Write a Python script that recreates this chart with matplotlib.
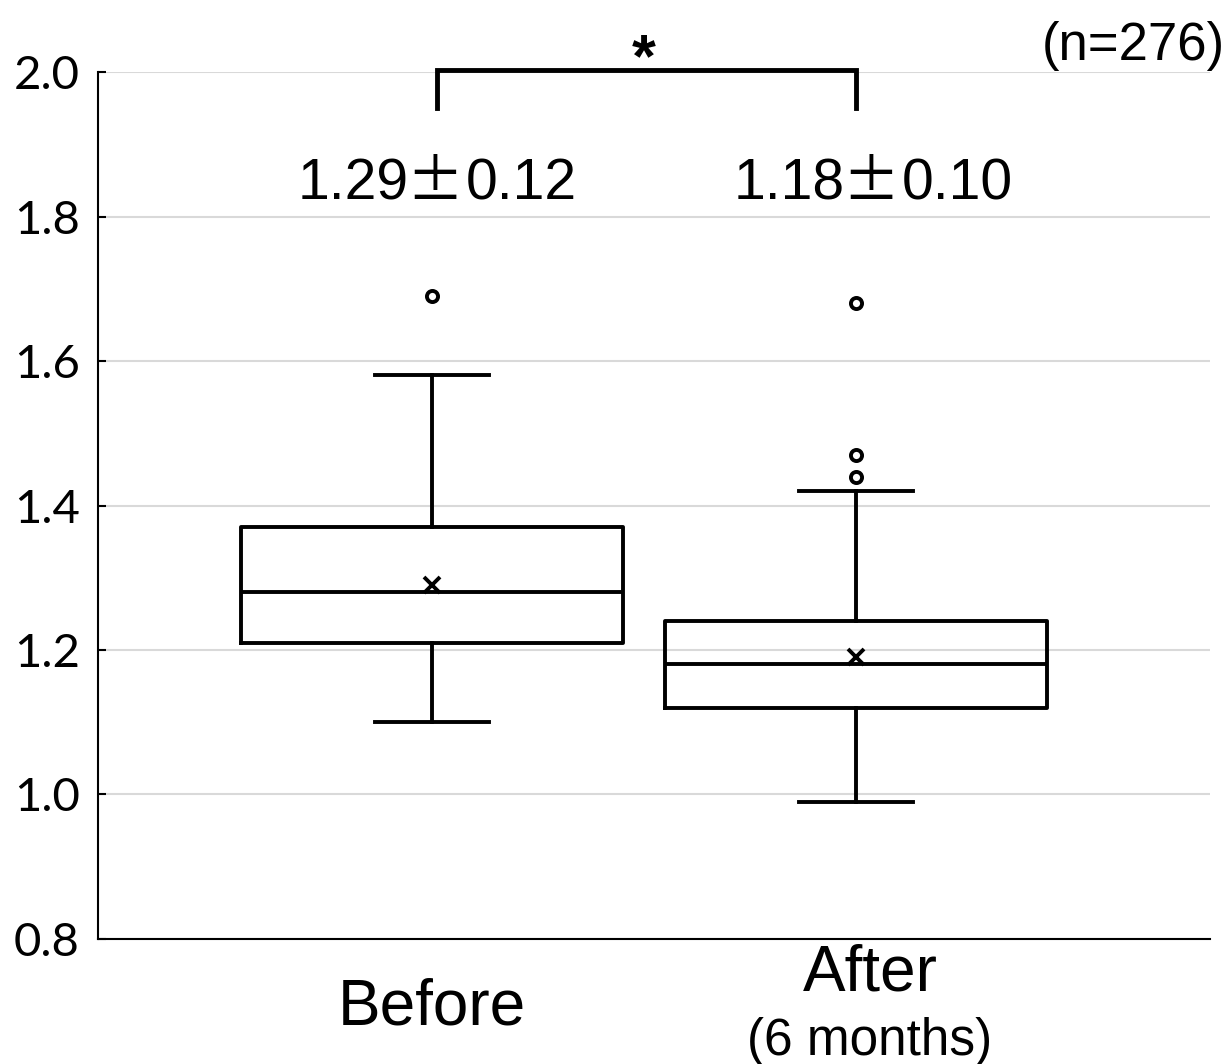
import matplotlib.pyplot as plt
import numpy as np

groups = ["Before", "After"]
q1 = [1.21, 1.12]
med = [1.28, 1.18]
q3 = [1.37, 1.24]
whislo = [1.10, 0.99]
whishi = [1.58, 1.42]
means = [1.29, 1.19]
fliers = [[1.69], [1.68, 1.47, 1.44]]
mean_txt = ["1.29", "1.18"]
sd_txt = ["0.12", "0.10"]
yticks = [0.8, 1.0, 1.2, 1.4, 1.6, 1.8, 2.0]

fig = plt.figure(figsize=(12.32, 10.64), dpi=100)
ax = fig.add_axes([0.0795, 0.1175, 0.9025, 0.8148])

stats = []
for i, g in enumerate(groups):
    stats.append(dict(label=g, q1=q1[i], med=med[i], q3=q3[i], whislo=whislo[i],
                      whishi=whishi[i], mean=means[i], fliers=fliers[i]))

lw = 2.8
ax.bxp(stats, positions=[1, 2], widths=0.9, capwidths=0.27, showmeans=True,
       boxprops=dict(color="black", linewidth=lw),
       medianprops=dict(color="black", linewidth=lw),
       whiskerprops=dict(color="black", linewidth=lw),
       capprops=dict(color="black", linewidth=lw),
       meanprops=dict(marker="x", markeredgecolor="black", markersize=12, markeredgewidth=2.8),
       flierprops=dict(marker="o", markerfacecolor="white", markeredgecolor="black",
                       markersize=8, markeredgewidth=2.8))

ax.set_xlim(0.212, 2.835)
ax.set_ylim(0.8, 2.0)
ax.set_yticks(yticks)
ax.set_yticklabels([f"{t:.1f}" for t in yticks], fontfamily="Lato", fontsize=34)
ax.yaxis.grid(True, color="#d9d9d9", linewidth=1.5)
ax.set_axisbelow(True)
ax.tick_params(axis="y", direction="in", length=6, width=1.5, pad=13)
ax.set_xticks([])
for s in ["top", "right"]:
    ax.spines[s].set_visible(False)
for s in ["left", "bottom"]:
    ax.spines[s].set_linewidth(1.5)

sans = "Liberation Sans"
ax.text(1, 0.682, "Before", ha="center", va="baseline", fontsize=46, family=sans, clip_on=False)
ax.text(2.033, 0.729, "After", ha="center", va="baseline", fontsize=46, family=sans, clip_on=False)
ax.text(2.033, 0.639, "(6 months)", ha="center", va="baseline", fontsize=37, family=sans, clip_on=False)

# mean ± SD, with a wide plus-minus sign near the centre of each box
shift = [2, 11]  # points
for i in range(len(groups)):
    x = i + 1
    ax.annotate("\u00b1", (x, 1.823), xytext=(shift[i], 0), textcoords="offset points",
                ha="center", va="baseline", fontsize=41, family="Noto Sans CJK JP")
    ax.annotate(mean_txt[i], (x, 1.823), xytext=(shift[i] - 19, 0), textcoords="offset points",
                ha="right", va="baseline", fontsize=41, family=sans)
    ax.annotate(sd_txt[i], (x, 1.823), xytext=(shift[i] + 22, 0), textcoords="offset points",
                ha="left", va="baseline", fontsize=41, family=sans)

ax.plot([1.012, 1.012, 2.0, 2.0], [1.95, 2.003, 2.003, 1.95], color="black", linewidth=3.5,
        clip_on=False, solid_joinstyle="miter")
ax.text(1.5, 1.994, "*", ha="center", va="baseline", fontsize=44, fontweight="bold", family=sans)
fig.text(0.994, 1 - 60 / 1064, "(n=276)", ha="right", va="baseline", fontsize=38, family=sans)

fig.savefig("out.png", dpi=100)
